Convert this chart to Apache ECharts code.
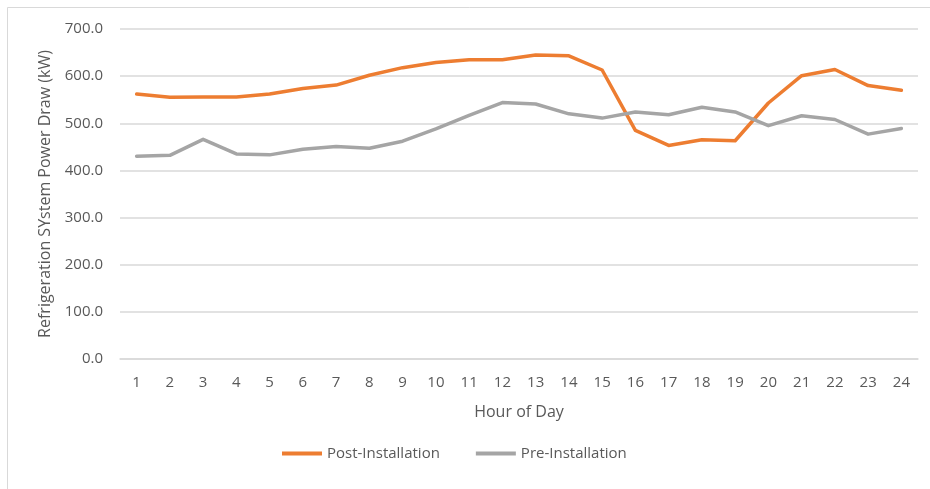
<!DOCTYPE html>
<html>
<head>
<meta charset="utf-8">
<script src="https://cdn.jsdelivr.net/npm/echarts@6/dist/echarts.min.js"></script>
<style>
  html, body { margin: 0; padding: 0; background: #fff; }
  #chart { width: 930px; height: 489px; }
</style>
</head>
<body>
<div id="chart"></div>
<script>
// Hour-of-day categories
const hours = ['1','2','3','4','5','6','7','8','9','10','11','12','13','14','15','16','17','18','19','20','21','22','23','24'];

// Refrigeration system power draw (kW) by hour
const postInstallation = [562, 555, 556, 556, 562, 574, 581, 602, 618, 629, 635, 635, 645, 643, 613, 485, 453, 465, 463, 543, 601, 614, 580, 570];
const preInstallation  = [430, 432, 466, 435, 433, 445, 451, 447, 462, 488, 517, 544, 541, 520, 511, 524, 518, 534, 524, 495, 516, 508, 477, 489];

const textColor = '#595959';
const font = 'Open Sans';

const chart = echarts.init(document.getElementById('chart'), null, { renderer: 'canvas' });

chart.setOption({
  backgroundColor: '#ffffff',
  animation: false,
  graphic: [{
    type: 'rect',
    shape: { x: 7.5, y: 7.5, width: 940, height: 500 },
    style: { fill: 'none', stroke: '#d9d9d9', lineWidth: 1 },
    silent: true
  }],
  grid: { left: 120, right: 12, top: 29, bottom: 130 },
  legend: {
    bottom: 23,
    left: 277,
    itemWidth: 40,
    itemHeight: 4,
    itemGap: 36,
    icon: 'rect',
    textStyle: { color: textColor, fontFamily: font, fontSize: 15, padding: [0, 0, 0, 0] },
    data: ['Post-Installation', 'Pre-Installation']
  },
  xAxis: {
    type: 'category',
    data: hours,
    boundaryGap: true,
    name: 'Hour of Day',
    nameLocation: 'middle',
    nameGap: 45,
    nameTextStyle: { color: textColor, fontFamily: font, fontSize: 16 },
    axisLine: { show: true, lineStyle: { color: '#d9d9d9', width: 1.5 } },
    axisTick: { show: false },
    axisLabel: { color: textColor, fontFamily: font, fontSize: 15, margin: 16 }
  },
  yAxis: {
    type: 'value',
    min: 0,
    max: 700,
    interval: 100,
    name: 'Refrigeration SYstem Power Draw (kW)',
    nameLocation: 'middle',
    nameGap: 67,
    nameTextStyle: { color: textColor, fontFamily: font, fontSize: 16 },
    axisLine: { show: false },
    axisTick: { show: false },
    splitLine: { lineStyle: { color: '#d9d9d9', width: 1.5 } },
    axisLabel: {
      color: textColor, fontFamily: font, fontSize: 15, margin: 17,
      formatter: v => v.toFixed(1)
    }
  },
  series: [
    {
      name: 'Post-Installation',
      type: 'line',
      data: postInstallation,
      symbol: 'none',
      lineStyle: { color: '#ED7D31', width: 3.5, cap: 'round', join: 'round' },
      itemStyle: { color: '#ED7D31' }
    },
    {
      name: 'Pre-Installation',
      type: 'line',
      data: preInstallation,
      symbol: 'none',
      lineStyle: { color: '#A5A5A5', width: 3.5, cap: 'round', join: 'round' },
      itemStyle: { color: '#A5A5A5' }
    }
  ]
});
</script>
</body>
</html>
